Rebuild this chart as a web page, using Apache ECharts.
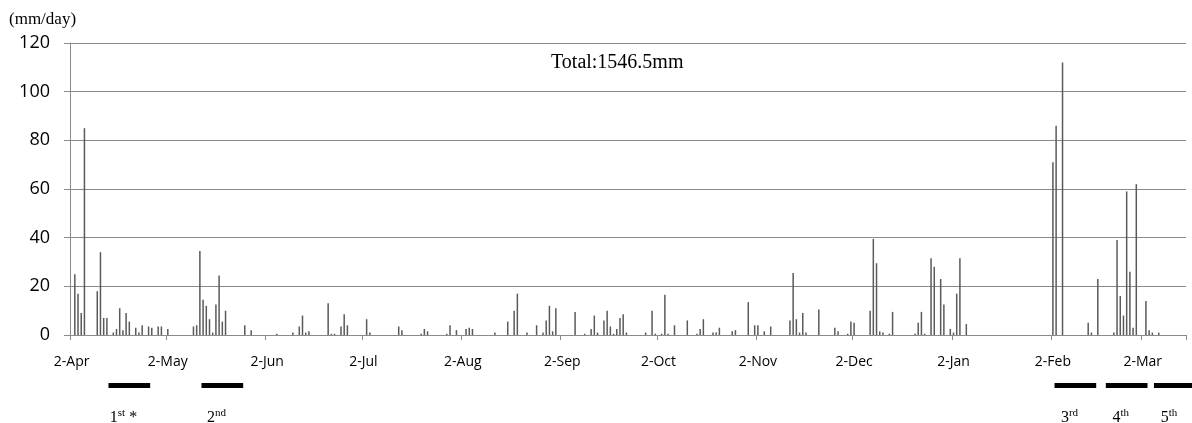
<!DOCTYPE html>
<html>
<head>
<meta charset="utf-8">
<title>Daily rainfall</title>
<script src="https://cdn.jsdelivr.net/npm/echarts@6/dist/echarts.min.js"></script>
<style>
  html, body { margin: 0; padding: 0; background: #fff; }
  #chart { width: 1192px; height: 423px; }
</style>
</head>
<body>
<div id="chart"></div>
<script>
// Observation year runs from 2 April to mid-March; day 0 is 2 April.
const startDate = Date.UTC(2014, 3, 2);
const dayCount = 348;
const monthNames = ['Jan', 'Feb', 'Mar', 'Apr', 'May', 'Jun', 'Jul', 'Aug', 'Sep', 'Oct', 'Nov', 'Dec'];

// Rain days (offset from 2 April) and daily rainfall in mm.
const rainDay = [
  1, 2, 3, 4, 8, 9, 10, 11, 13, 14, 15, 16, 17, 18, 20, 21, 22, 24, 25, 27, 28, 30,
  38, 39, 40, 41, 42, 43, 44, 45, 46, 47, 48, 54, 56,
  64, 69, 71, 72, 73, 74, 80, 81, 82, 84, 85, 86, 92, 93,
  102, 103, 109, 110, 111, 117, 118, 120, 123, 124, 125,
  132, 136, 138, 139, 142, 145, 147, 148, 149, 150, 151,
  157, 160, 162, 163, 164, 166, 167, 168, 169, 170, 171, 172, 173,
  179, 181, 182, 184, 185, 186, 188, 192, 195, 196, 197, 200, 201, 202, 206, 207,
  211, 213, 214, 216, 218, 224, 225, 226, 227, 228, 229, 233, 238, 239,
  242, 243, 244, 249, 250, 251, 252, 253, 255, 256,
  263, 264, 265, 266, 268, 269, 271, 272, 274, 275, 276, 277, 279,
  306, 307, 309, 317, 318, 320, 325, 326, 327, 328, 329, 330, 331, 332, 335, 336, 337, 339
];
const rainMm = [
  25, 17, 9, 85, 18, 34, 7, 7, 1, 2.5, 11, 2, 9, 5.5, 3, 1, 4, 3.5, 3, 3.5, 3.5, 2.5,
  3.5, 4, 34.5, 14.5, 12, 6.5, 1, 12.5, 24.5, 5.5, 10, 4, 2,
  0.5, 1, 3.5, 8, 1, 1.5, 13, 0.5, 0.5, 3.5, 8.5, 4, 6.5, 1,
  3.5, 2, 0.5, 2.5, 1.5, 0.5, 4, 2, 2.5, 3, 2.5,
  1, 5.5, 10, 17, 1, 4, 1, 6, 12, 1.5, 11,
  9.5, 0.5, 2.5, 8, 1, 6, 10, 3.5, 0.5, 2.5, 7, 8.5, 1,
  1, 10, 0.5, 0.5, 16.5, 0.5, 4, 6, 0.5, 2.5, 6.5, 1, 1, 3, 1.5, 2,
  13.5, 4, 4, 1.5, 3.5, 6, 25.5, 6.5, 1, 9, 1, 10.5, 3, 1.5,
  0.5, 5.5, 5, 10, 39.5, 29.5, 1.5, 1, 0.5, 9.5,
  0.5, 5, 9.5, 0.5, 31.5, 28, 23, 12.5, 2.5, 1, 17, 31.5, 4.5,
  71, 86, 112, 5, 1, 23, 1, 39, 16, 8, 59, 26, 3, 62, 14, 2, 1, 1
];

// Sampling periods: first day and day after the last (offsets from 2 April).
const periodStart = [12, 41, 307, 323, 338];
const periodEnd = [25, 54, 320, 336, 351];
// Period names: number, ordinal suffix, trailing note.
const periodNum = ['1', '2', '3', '4', '5'];
const periodSuffix = ['st', 'nd', 'rd', 'th', 'th'];
const periodNote = [' *', '', '', '', ''];

const yMin = 0, yMax = 120, yStep = 20;

// Build the daily category labels ("2-Apr", "3-Apr", ...).
const dayLabels = [];
for (let i = 0; i < dayCount; i++) {
  const d = new Date(startDate + i * 86400000);
  dayLabels.push(d.getUTCDate() + '-' + monthNames[d.getUTCMonth()]);
}
const dailyRain = new Array(dayCount).fill(0);
rainDay.forEach((day, k) => { dailyRain[day] = rainMm[k]; });
const total = rainMm.reduce((a, b) => a + b, 0);

const isMonthMark = (idx, label) => label.startsWith('2-');
const gridColor = '#8a8a8a';
const serif = 'Liberation Serif';

const chart = echarts.init(document.getElementById('chart'), null, { renderer: 'canvas' });
chart.setOption({
  animation: false,
  backgroundColor: '#fff',
  title: [
    {
      text: '(mm/day)', left: 9, top: 11, padding: 0,
      textStyle: { fontFamily: serif, fontSize: 17, fontWeight: 'normal', color: '#000' }
    },
    {
      text: 'Total:' + total.toFixed(1) + 'mm', left: 551, top: 53, padding: 0,
      textStyle: { fontFamily: serif, fontSize: 20, fontWeight: 'normal', color: '#000' }
    }
  ],
  grid: { left: 70, right: 6, top: 43, bottom: 88, containLabel: false },
  xAxis: {
    type: 'category',
    data: dayLabels,
    boundaryGap: true,
    axisLine: { show: true, lineStyle: { color: gridColor, width: 1 } },
    axisTick: { show: true, interval: isMonthMark, length: 5, lineStyle: { color: gridColor } },
    axisLabel: {
      interval: isMonthMark, margin: 20,
      fontFamily: 'Open Sans', fontSize: 14, color: '#000'
    },
    splitLine: { show: false }
  },
  yAxis: {
    type: 'value',
    min: yMin, max: yMax, interval: yStep,
    axisLine: { show: true, lineStyle: { color: gridColor, width: 1 } },
    axisTick: { show: true, length: 6, lineStyle: { color: gridColor } },
    axisLabel: { margin: 20, fontFamily: 'Open Sans', fontSize: 18, color: '#000' },
    splitLine: { show: true, lineStyle: { color: gridColor, width: 1 } }
  },
  series: [
    {
      name: 'Rainfall',
      type: 'bar',
      data: dailyRain,
      barWidth: 1.5,
      itemStyle: { color: '#5a5a5a' },
      silent: true
    },
    {
      name: 'Periods',
      type: 'custom',
      clip: false,
      silent: true,
      data: periodStart.map((s, i) => [s, 0, periodEnd[i], i]),
      encode: { x: 0, y: 1 },
      renderItem(params, api) {
        const i = api.value(3);
        const band = api.size([1, 0])[0];
        const base = api.coord([api.value(0), 0]);
        const x0 = base[0] - band / 2;
        const w = (api.value(2) - api.value(0)) * band;
        return {
          type: 'group',
          children: [
            {
              type: 'rect',
              shape: { x: x0, y: base[1] + 48, width: w, height: 5 },
              style: { fill: '#000' }
            },
            {
              type: 'text',
              x: x0 + 15,
              y: base[1] + 82,
              style: {
                text: '{n|' + periodNum[i] + '}{s|' + periodSuffix[i] + '}' +
                      (periodNote[i] ? '{n|' + periodNote[i] + '}' : ''),
                align: 'center',
                verticalAlign: 'middle',
                rich: {
                  n: { fontFamily: serif, fontSize: 16, fill: '#000', lineHeight: 18, verticalAlign: 'bottom' },
                  s: { fontFamily: serif, fontSize: 11, fill: '#000', lineHeight: 18, verticalAlign: 'top' }
                }
              }
            }
          ]
        };
      }
    }
  ]
});
</script>
</body>
</html>
